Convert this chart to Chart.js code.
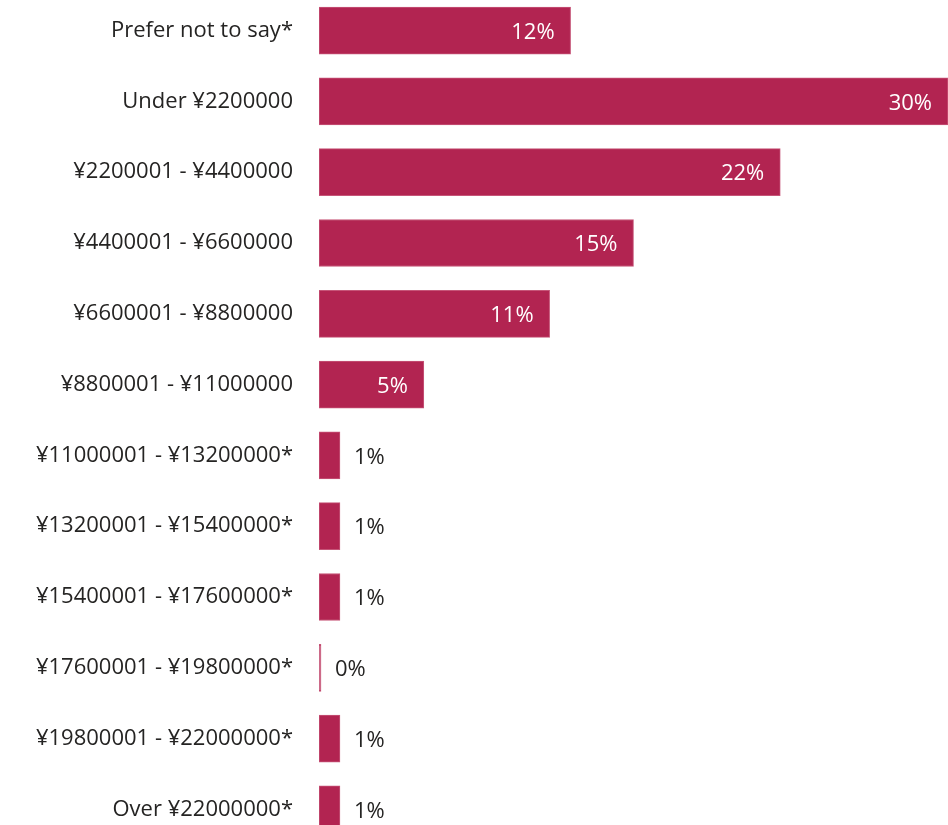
<!DOCTYPE html>
<html>
<head>
<meta charset="utf-8">
<script src="https://cdn.jsdelivr.net/npm/chart.js@4.4.1/dist/chart.umd.min.js"></script>
<style>
  html, body { margin: 0; padding: 0; background: #fff; }
  #wrap { position: relative; width: 948px; height: 825px; overflow: hidden; }
  #incomeChart { position: absolute; left: 0; top: -18px; }
</style>
</head>
<body>
<div id="wrap"><canvas id="incomeChart" width="948" height="876"></canvas></div>
<script>
const categories = [
  "Prefer not to say*",
  "Under ¥2200000",
  "¥2200001 - ¥4400000",
  "¥4400001 - ¥6600000",
  "¥6600001 - ¥8800000",
  "¥8800001 - ¥11000000",
  "¥11000001 - ¥13200000*",
  "¥13200001 - ¥15400000*",
  "¥15400001 - ¥17600000*",
  "¥17600001 - ¥19800000*",
  "¥19800001 - ¥22000000*",
  "Over ¥22000000*"
];
const shares = [12, 30, 22, 15, 11, 5, 1, 1, 1, 0, 1, 1];

const FONT = "'Open Sans', 'Noto Sans', sans-serif";

// percentage labels: white inside the longer bars, dark just past the short ones
const valueLabels = {
  id: 'valueLabels',
  afterDatasetsDraw(chart) {
    const ctx = chart.ctx;
    const meta = chart.getDatasetMeta(0);
    ctx.save();
    ctx.font = "22px " + FONT;
    ctx.textBaseline = 'middle';
    meta.data.forEach((bar, i) => {
      const v = shares[i];
      const txt = v + '%';
      const y = bar.y + 2;
      if (v >= 5) {
        ctx.fillStyle = '#ffffff';
        ctx.textAlign = 'right';
        ctx.fillText(txt, bar.x - 16, y);
      } else {
        ctx.fillStyle = '#252423';
        ctx.textAlign = 'left';
        ctx.fillText(txt, bar.x + 14, y);
      }
    });
    ctx.restore();
  }
};

new Chart(document.getElementById('incomeChart'), {
  type: 'bar',
  data: {
    labels: categories,
    datasets: [{
      data: shares,
      backgroundColor: '#b22451',
      borderColor: '#c65578',
      borderWidth: 1,
      borderSkipped: false,
      minBarLength: 2,
      barThickness: 47
    }]
  },
  options: {
    indexAxis: 'y',
    responsive: false,
    animation: false,
    layout: { padding: 0 },
    plugins: {
      legend: { display: false },
      tooltip: { enabled: false }
    },
    scales: {
      x: {
        display: false,
        min: 0,
        max: 30
      },
      y: {
        // invisible tick marks keep the labels off the bars without the
        // extra top/bottom space that ticks.padding would add
        grid: {
          display: true,
          drawOnChartArea: false,
          drawTicks: true,
          tickLength: 26,
          color: 'rgba(0,0,0,0)'
        },
        border: { display: false },
        ticks: {
          padding: 0,
          color: '#252423',
          font: { family: FONT, size: 22 }
        },
        afterFit(scale) { scale.width = 319; }
      }
    }
  },
  plugins: [valueLabels],
});
</script>
</body>
</html>
